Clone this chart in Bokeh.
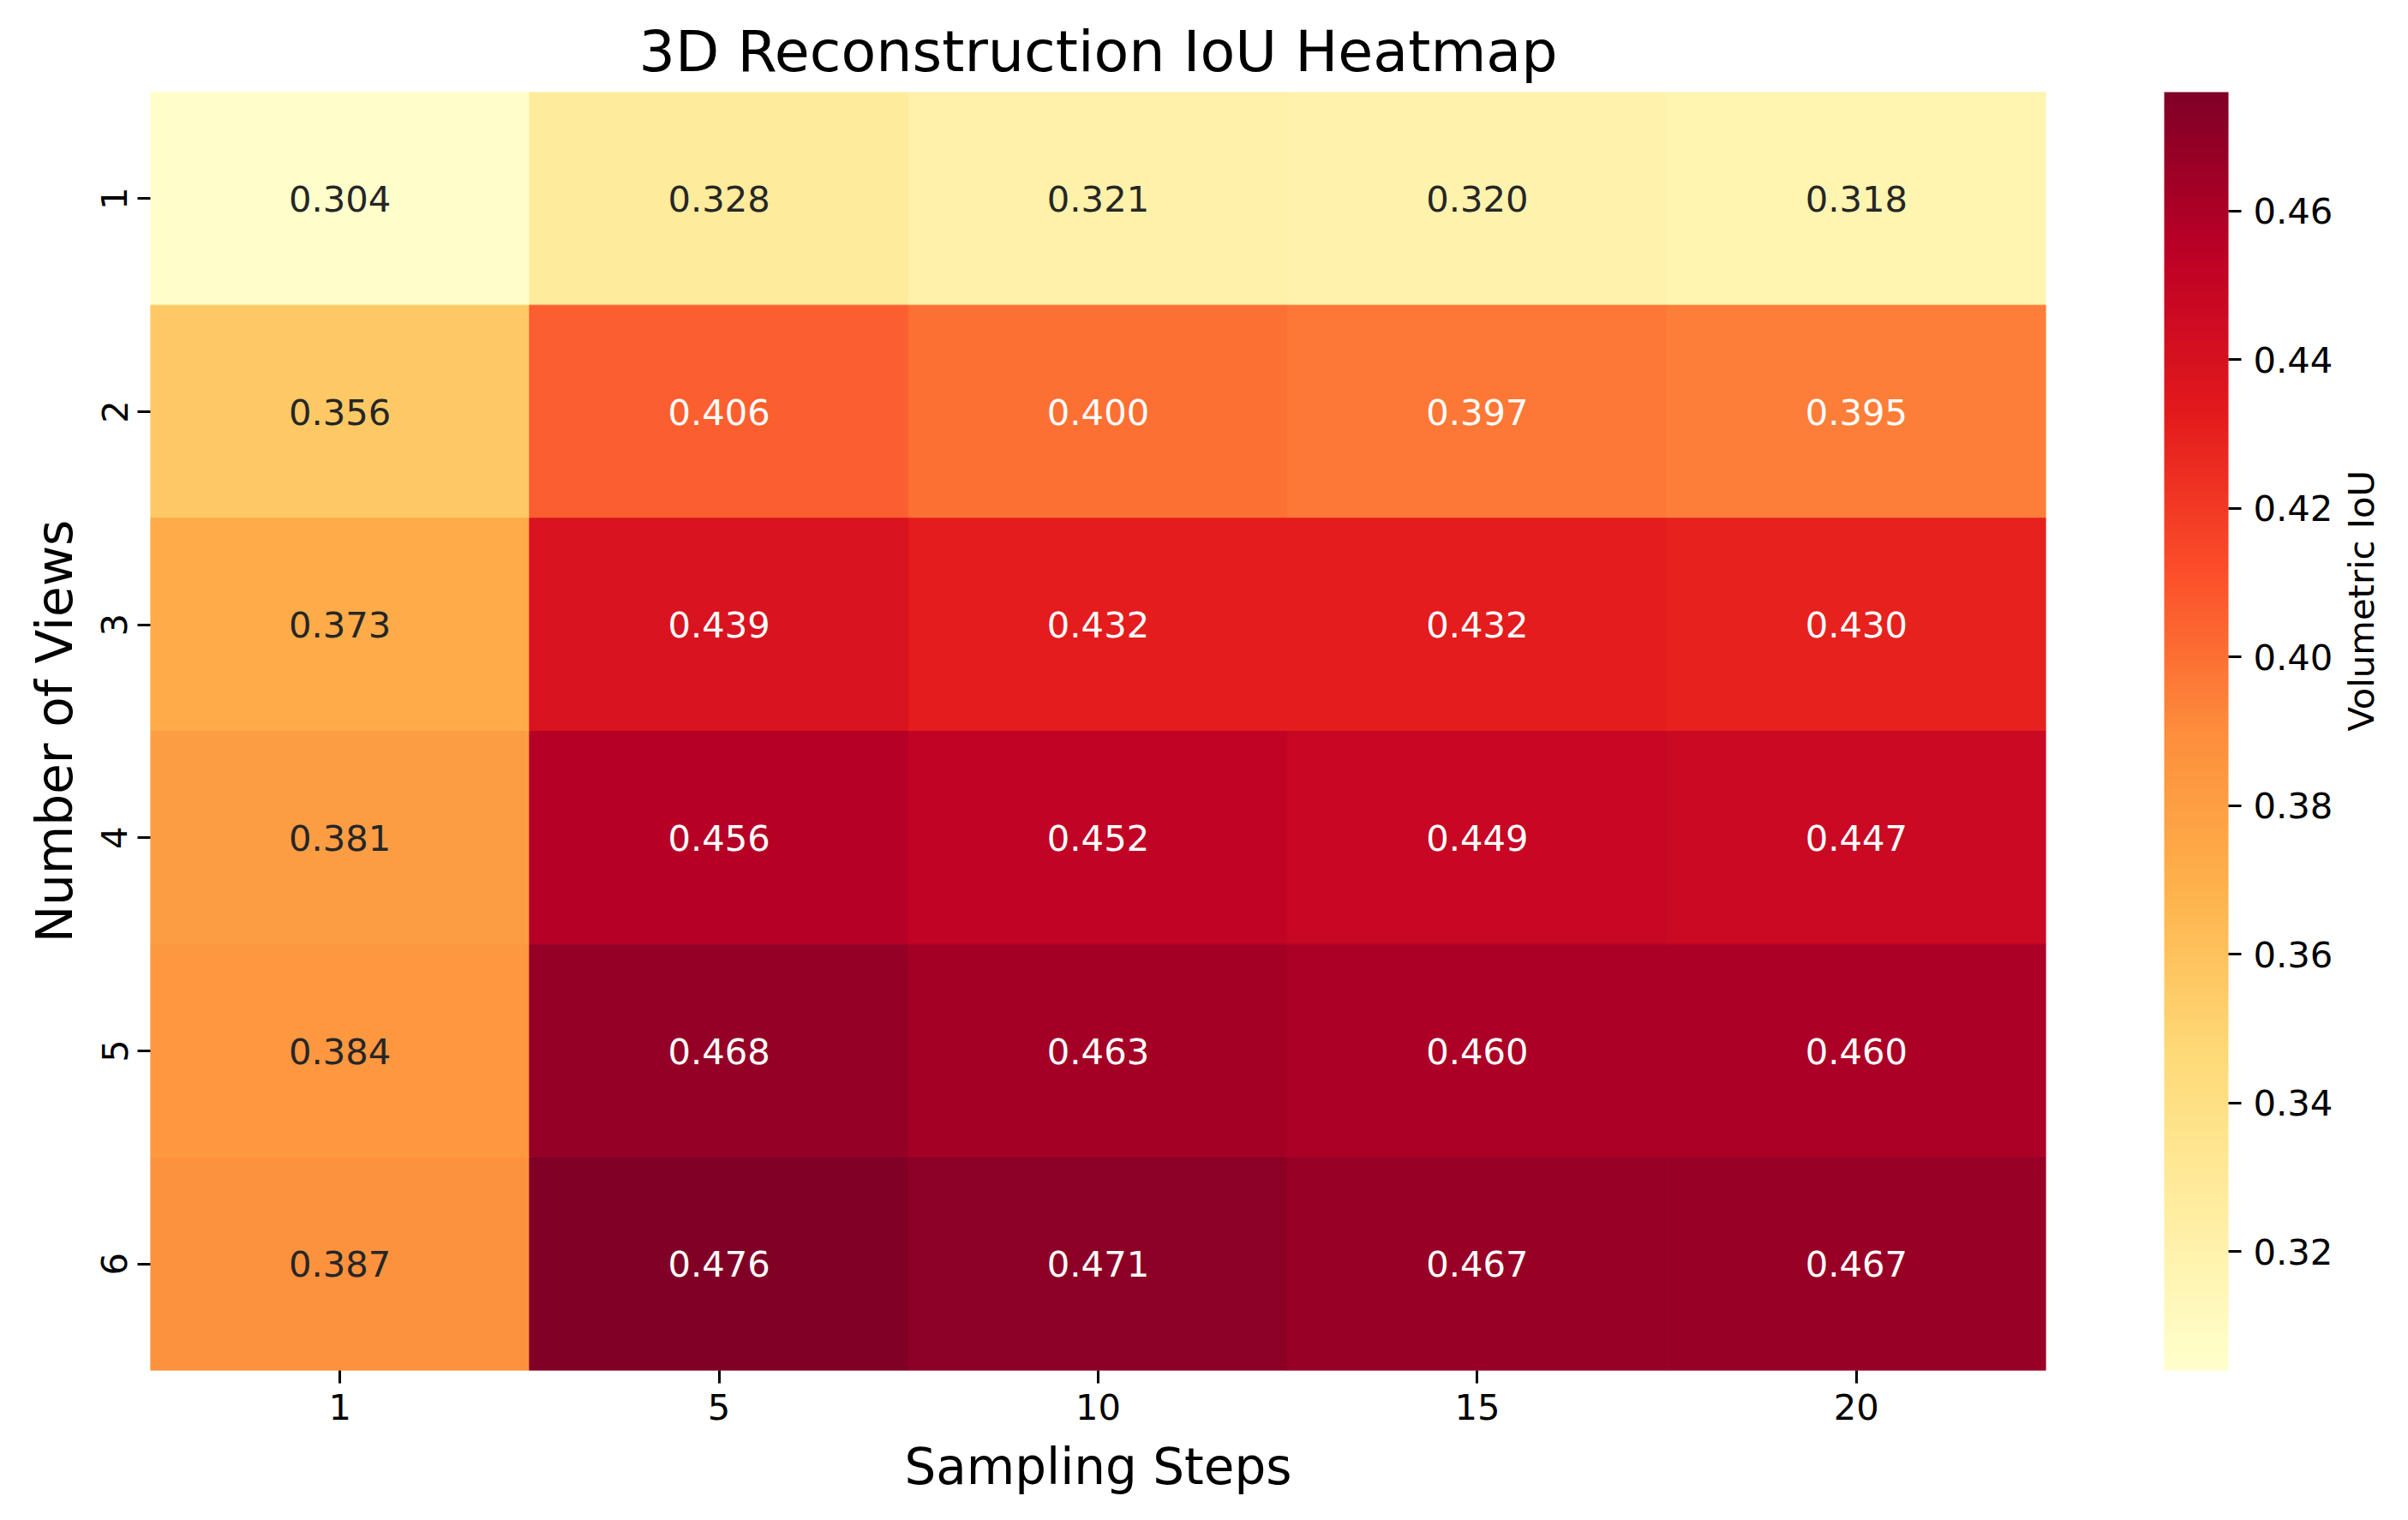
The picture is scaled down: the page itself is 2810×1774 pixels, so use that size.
import math
from bokeh.plotting import figure
from bokeh.models import (ColumnDataSource, LinearColorMapper, ColorBar, FixedTicker,
                          CategoricalAxis, PrintfTickFormatter)
from bokeh.embed import file_html
from bokeh.resources import INLINE
from bokeh.core.properties import value

# ---------------- data ----------------
sampling_steps = ["1", "5", "10", "15", "20"]
num_views = ["1", "2", "3", "4", "5", "6"]

iou_views_1 = [0.304, 0.328, 0.321, 0.320, 0.318]
iou_views_2 = [0.356, 0.406, 0.400, 0.397, 0.395]
iou_views_3 = [0.373, 0.439, 0.432, 0.432, 0.430]
iou_views_4 = [0.381, 0.456, 0.452, 0.449, 0.447]
iou_views_5 = [0.384, 0.468, 0.463, 0.460, 0.460]
iou_views_6 = [0.387, 0.476, 0.471, 0.467, 0.467]

colorbar_ticks = [0.32, 0.34, 0.36, 0.38, 0.40, 0.42, 0.44, 0.46]

rows = [iou_views_1, iou_views_2, iou_views_3, iou_views_4, iou_views_5, iou_views_6]

# ---------------- colormap (matplotlib YlOrRd, 256 levels) ----------------
ylorrd = ['#ffffcc', '#ffeda0', '#fed976', '#feb24c', '#fd8d3c',
          '#fc4e2a', '#e31a1c', '#bd0026', '#800026']


def hex2rgb(h):
    return [int(h[i:i + 2], 16) / 255.0 for i in (1, 3, 5)]


base = [hex2rgb(c) for c in ylorrd]
palette = []
for i in range(256):
    t = i / 255 * (len(base) - 1)
    k = min(int(t), len(base) - 2)
    f = t - k
    rgb = [base[k][j] + (base[k + 1][j] - base[k][j]) * f for j in range(3)]
    palette.append('#%02x%02x%02x' % tuple(int(round(c * 255)) for c in rgb))

vals_all = [v for r in rows for v in r]
vmin, vmax = min(vals_all), max(vals_all)
mapper = LinearColorMapper(palette=palette, low=vmin, high=vmax)


def lum(hexc):
    out = []
    for c in hex2rgb(hexc):
        out.append(c / 12.92 if c <= 0.03928 else ((c + 0.055) / 1.055) ** 2.4)
    return 0.2126 * out[0] + 0.7152 * out[1] + 0.0722 * out[2]


xs, ys, vs, labels, tcolors = [], [], [], [], []
for view, r in zip(num_views, rows):
    for step, v in zip(sampling_steps, r):
        xs.append(step)
        ys.append(view)
        vs.append(v)
        labels.append("%.3f" % v)
        idx = int((v - vmin) / (vmax - vmin) * 256)
        idx = max(0, min(255, idx))
        tcolors.append("#262626" if lum(palette[idx]) > 0.408 else "#ffffff")

src = ColumnDataSource(dict(step=xs, view=ys, iou=vs, label=labels, tc=tcolors))

FONT = "DejaVu Sans"
FW, FH = 2212, 1492

p = figure(x_range=sampling_steps, y_range=list(reversed(num_views)),
           frame_width=FW, frame_height=FH,
           min_border_left=175, min_border_right=407, min_border_top=107, min_border_bottom=159,
           output_backend="svg", toolbar_location=None,
           title="3D Reconstruction IoU Heatmap")

p.rect(x="step", y="view", width=1, height=1, source=src,
       fill_color={"field": "iou", "transform": mapper},
       line_color={"field": "iou", "transform": mapper}, line_width=1)

p.text(x="step", y="view", text="label", source=src, text_color="tc",
       text_align="center", text_baseline="middle",
       text_font=value(FONT), text_font_size="41.7px")

p.title.align = "center"
p.title.text_font = FONT
p.title.text_font_size = "66.7px"
p.title.text_font_style = "normal"
p.title.text_color = "black"
p.title.standoff = 18

p.outline_line_color = None
p.grid.visible = False
p.background_fill_color = "white"
p.border_fill_color = "white"

for ax in (p.xaxis[0], p.yaxis[0]):
    ax.axis_line_color = None
    ax.major_tick_in = 0
    ax.major_tick_out = 15
    ax.major_tick_line_width = 3
    ax.major_tick_line_color = "black"
    ax.minor_tick_line_color = None
    ax.major_label_text_font = FONT
    ax.major_label_text_font_size = "41.7px"
    ax.major_label_text_color = "black"
    ax.axis_label_text_font = FONT
    ax.axis_label_text_font_size = "58px"
    ax.axis_label_text_font_style = "normal"
    ax.axis_label_text_color = "black"
    ax.major_label_standoff = 12
    ax.axis_label_standoff = 18

p.xaxis.axis_label = "Sampling Steps"
p.yaxis.axis_label = "Number of Views"
p.yaxis.major_label_orientation = "vertical"

cb = ColorBar(color_mapper=mapper, location=(2350, 0), width=75, height=FH,
              padding=0, margin=0,
              ticker=FixedTicker(ticks=colorbar_ticks),
              formatter=PrintfTickFormatter(format="%.2f"),
              major_label_text_font=FONT, major_label_text_font_size="41.7px",
              major_label_text_color="black",
              major_tick_in=0, major_tick_out=15, major_tick_line_color="black",
              major_tick_line_width=3, minor_tick_line_color=None,
              bar_line_color=None, border_line_color=None,
              background_fill_color=None, label_standoff=14)
p.add_layout(cb, "center")

# colour-bar label, carried by an otherwise empty axis on the right
cb_axis = CategoricalAxis(ticker=FixedTicker(ticks=[]),
                          axis_label="Volumetric IoU",
                          axis_label_text_font=FONT, axis_label_text_font_size="41.7px",
                          axis_label_text_font_style="normal", axis_label_text_color="black",
                          axis_label_standoff=368, axis_label_orientation=math.pi / 2,
                          axis_line_color=None, major_tick_line_color=None,
                          major_tick_out=0, major_tick_in=0, major_label_standoff=0)
p.add_layout(cb_axis, "right")

open("out.html", "w").write(file_html(p, INLINE))
